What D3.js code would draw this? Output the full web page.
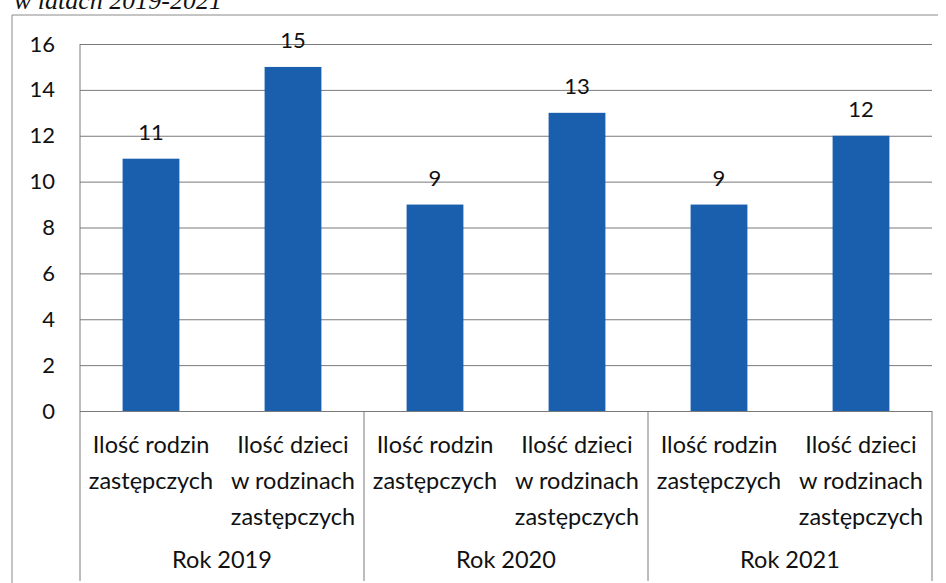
<!DOCTYPE html>
<html>
<head>
<meta charset="utf-8">
<script src="https://cdn.jsdelivr.net/npm/d3@7"></script>
<style>
  body { margin: 0; background: #fff; }
  svg text { font-family: Lato, "Open Sans", sans-serif; fill: #111; }
</style>
</head>
<body>
<div id="chart"></div>
<script>
const width = 946
const height = 583
const margin = { top: 44, right: 14, bottom: 172, left: 80 }

// data
const years = ["Rok 2019", "Rok 2020", "Rok 2021"]
const seriesLines = [["Ilość rodzin", "zastępczych"], ["Ilość dzieci", "w rodzinach", "zastępczych"]]
const values = [11, 15, 9, 13, 9, 12]
const yTicks = [0, 2, 4, 6, 8, 10, 12, 14, 16]

const categories = []
years.forEach((y, i) => seriesLines.forEach((s, j) => categories.push({ id: i + "-" + j, year: y, lines: s, value: values[i * 2 + j] })))

const fontSize = 23.5
const numSize = 22
const barColor = "#1a5fae"
const gridColor = "#7a7a7a"

const svg = d3.select("#chart").append("svg").attr("width", width).attr("height", height)

// scan caption, cut at the top like in the scan
svg.append("text")
    .attr("x", 14).attr("y", 9)
    .style("font-family", "'Liberation Serif', serif")
    .style("font-style", "italic")
    .attr("font-size", 26)
    .text("w latach 2019-2021")

// outer frame (left and top)
svg.append("path")
    .attr("d", "M12,583 V15 H938")
    .attr("fill", "none").attr("stroke", "#8a8a8a").attr("stroke-width", 1)

const iW = width - margin.left - margin.right
const iH = height - margin.top - margin.bottom

const x = d3.scaleBand().domain(categories.map(d => d.id)).range([0, iW]).paddingInner(0.6).paddingOuter(0.3)
const xGroup = d3.scaleBand().domain(years).range([0, iW])
const y = d3.scaleLinear().domain([0, 16]).range([iH, 0])

const g = svg.append("g").attr("transform", `translate(${margin.left},${margin.top})`)

// gridlines + y labels
const yAxis = g.append("g")
    .call(d3.axisLeft(y).tickValues(yTicks).tickSize(-iW).tickPadding(25))
yAxis.select(".domain").remove()
yAxis.selectAll(".tick line").attr("stroke", gridColor).attr("stroke-width", 1)
yAxis.selectAll(".tick text").attr("font-size", numSize).attr("fill", "#111")
    .style("font-family", "Lato, sans-serif")

// left axis line, continues down into the label area
g.append("line")
    .attr("x1", 0).attr("x2", 0).attr("y1", 0).attr("y2", iH + 170)
    .attr("stroke", gridColor)

// group separators below the axis
g.selectAll(".sep").data(years.slice(1).concat(["end"]))
    .join("line")
    .attr("class", "sep")
    .attr("x1", (d, i) => i < 2 ? xGroup(d) : iW)
    .attr("x2", (d, i) => i < 2 ? xGroup(d) : iW)
    .attr("y1", iH).attr("y2", iH + 170)
    .attr("stroke", gridColor)

// bars
g.selectAll("rect").data(categories)
    .join("rect")
    .attr("x", d => x(d.id))
    .attr("y", d => y(d.value))
    .attr("width", x.bandwidth())
    .attr("height", d => iH - y(d.value))
    .attr("fill", barColor)

// value labels
g.selectAll(".val").data(categories)
    .join("text")
    .attr("class", "val")
    .attr("text-anchor", "middle")
    .attr("x", d => x(d.id) + x.bandwidth() / 2)
    .attr("y", d => y(d.value) - 19)
    .attr("font-size", numSize)
    .text(d => d.value)

// category labels (wrapped)
const cat = g.selectAll(".cat").data(categories)
    .join("text")
    .attr("class", "cat")
    .attr("text-anchor", "middle")
    .attr("font-size", fontSize)
cat.selectAll("tspan").data(d => d.lines.map(l => ({ l, cx: x(d.id) + x.bandwidth() / 2 })))
    .join("tspan")
    .attr("x", d => d.cx)
    .attr("y", (d, i) => iH + 42 + i * 36)
    .text(d => d.l)

// year labels
g.selectAll(".yr").data(years)
    .join("text")
    .attr("class", "yr")
    .attr("text-anchor", "middle")
    .attr("x", d => xGroup(d) + xGroup.bandwidth() / 2)
    .attr("y", iH + 157)
    .attr("font-size", fontSize)
    .text(d => d)
</script>
</body>
</html>
